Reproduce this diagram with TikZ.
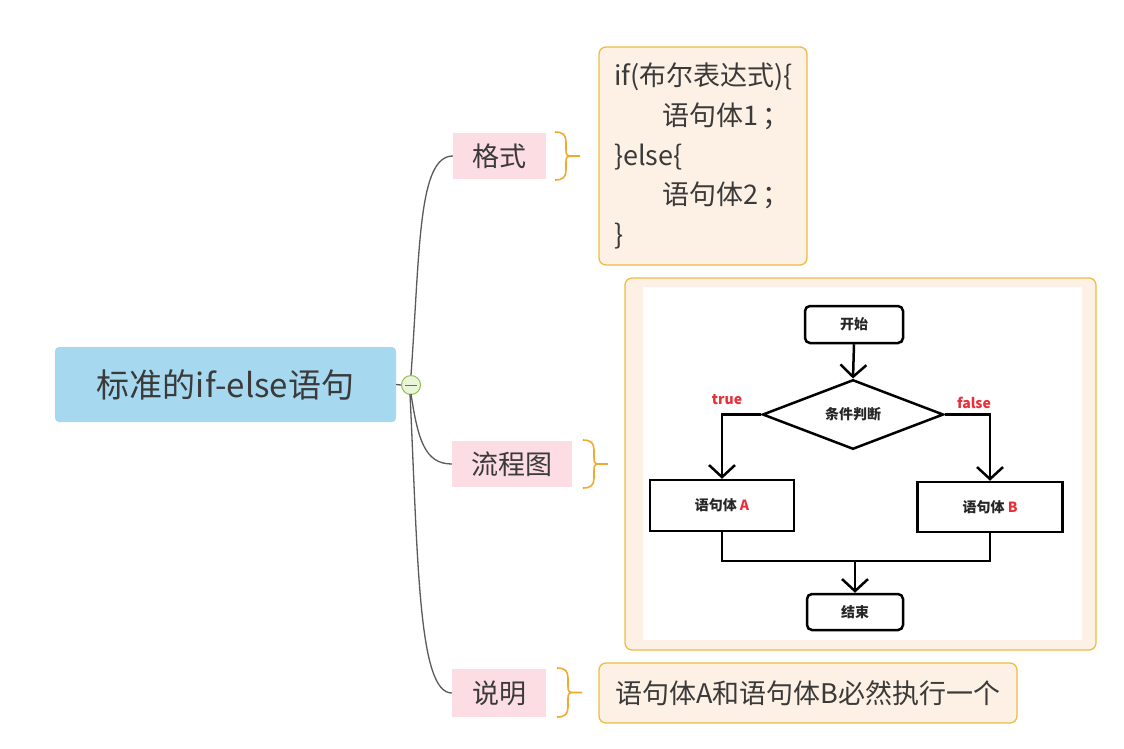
\documentclass[tikz,border=0pt]{standalone}
\usepackage{fontspec}
\setmainfont{Noto Sans CJK SC}
\usetikzlibrary{shapes.geometric,arrows.meta,calc}
\definecolor{rootblue}{HTML}{A6D9EF}
\definecolor{txt}{HTML}{3A3A3A}
\definecolor{pinkfill}{HTML}{FDDDE4}
\definecolor{boxfill}{HTML}{FDF0E5}
\definecolor{boxdraw}{HTML}{EDBD45}
\definecolor{brk}{HTML}{F1A92E}
\definecolor{conn}{HTML}{5A5A5A}
\definecolor{cfill}{HTML}{EAF6DA}
\definecolor{cdraw}{HTML}{8CC152}
\definecolor{fred}{HTML}{E8303A}
\newcommand{\xbrace}[3]{%
  \pgfmathsetmacro\ym{(#2+#3)/2}%
  \draw[bracket] (#1,#2) .. controls ({#1+8},#2) and ({#1+11},{#2+3}) .. ({#1+11},{#2+10})
    -- ({#1+11},{\ym-6}) .. controls ({#1+11},{\ym-1}) and ({#1+12},\ym) .. ({#1+17},\ym) -- ({#1+25},\ym)
    ({#1+17},\ym) .. controls ({#1+12},\ym) and ({#1+11},{\ym+1}) .. ({#1+11},{\ym+6})
    -- ({#1+11},{#3-10}) .. controls ({#1+11},{#3-3}) and ({#1+8},#3) .. (#1,#3);}
\begin{document}
\begin{tikzpicture}[x=1pt,y=-1pt,
  rootnode/.style={fill=rootblue,rounded corners=4pt,minimum width=341pt,minimum height=75pt,inner sep=0pt,text=txt,font=\fontsize{33}{38}\selectfont},
  branch/.style={fill=pinkfill,minimum height=46pt,inner sep=0pt,text=txt,font=\fontsize{27}{30}\selectfont},
  infobox/.style={fill=boxfill,draw=boxdraw,line width=1.3pt,rounded corners=7pt,inner sep=0pt,text=txt},
  bracket/.style={draw=brk,line width=1.6pt},
  conline/.style={draw=conn,line width=1.3pt},
  fc/.style={draw=black,line width=2.5pt,inner sep=0pt,text=black!85,font=\fontsize{14}{16}\selectfont\bfseries},
  fcline/.style={draw=black,line width=2.5pt},
  fcarr/.style={fcline,-{Straight Barb[length=12pt,width=26pt]}},
  redlbl/.style={text=fred,font=\fontsize{14}{16}\selectfont\bfseries,inner sep=0pt}
]
\useasboundingbox (0,0) rectangle (1124,748);
\fill[white] (0,0) rectangle (1124,748);

% root
\node[rootnode] (root) at (225.5,384.5) {标准的if-else语句};
\node[circle,draw=cdraw,fill=cfill,line width=1pt,minimum size=19pt,inner sep=0pt] (col) at (411,385) {};
\draw[draw=conn!70!green,line width=1pt] (405,385) -- (417,385);
\draw[conline] (root.east) -- (col.west);

% branches
\node[branch,minimum width=93pt] (fmt) at (499.5,156) {格式};
\node[branch,minimum width=120pt] (flow) at (512,464) {流程图};
\node[branch,minimum width=94pt,minimum height=48pt] (desc) at (499,693) {说明};

\draw[conline] (col.north) .. controls (420,250) and (418,156) .. (fmt.west);
\draw[conline] ($(col.south)+(0,-1)$) .. controls (418,440) and (425,464) .. (flow.west);
\draw[conline] ($(col.south)+(-1,-1)$) .. controls (418,560) and (418,693) .. (desc.west);

% brackets
\xbrace{555}{132}{180}
\xbrace{583}{440}{488}
\xbrace{557}{668}{717}

% code box
\node[infobox,minimum width=208pt,minimum height=218pt,align=left,text width=178pt,font=\fontsize{27}{39.75}\selectfont] (code) at (703,156)
 {if(布尔表达式)\{\\
  \hspace*{48pt}语句体1\hspace{5pt}；\\
  \}else\{\\
  \hspace*{48pt}语句体2\hspace{5pt}；\\
  \}};

% flowchart box
\node[infobox,minimum width=471pt,minimum height=372pt] (fbox) at (860.5,464) {};
\fill[white] (643,287) rectangle (1082,640);

\node[fc,rounded corners=5pt,minimum width=98pt,minimum height=37pt] (st) at (854,324.5) {开始};
\node[fc,diamond,minimum width=181pt,minimum height=51pt] (dec) at (853,414.5) {条件判断};
\node[fc,minimum width=144pt,minimum height=51pt] (ba) at (722,505.5) {语句体 \textcolor{fred}{A}};
\node[fc,minimum width=145pt,minimum height=50pt] (bb) at (990,507) {语句体 \textcolor{fred}{B}};
\node[fc,rounded corners=5pt,minimum width=96pt,minimum height=36pt] (en) at (855,612) {结束};
\coordinate (mg) at (855,561);

\draw[fcarr] (st.south) -- (dec.north);
\draw[fcarr] (dec.west) -| (ba.north);
\draw[fcarr] (dec.east) -| (bb.north);
\draw[fcline] (ba.south) |- (mg) -| (bb.south);
\draw[fcarr] (mg) -- (en.north);

\node[redlbl] (tl) at (727,400) {true};
\node[redlbl] (fl) at (974,403) {false};

% explanation
\node[infobox,minimum width=418pt,minimum height=60pt,font=\fontsize{27}{30}\selectfont] (expl) at (808,693) {语句体A和语句体B必然执行一个};
\end{tikzpicture}
\end{document}
